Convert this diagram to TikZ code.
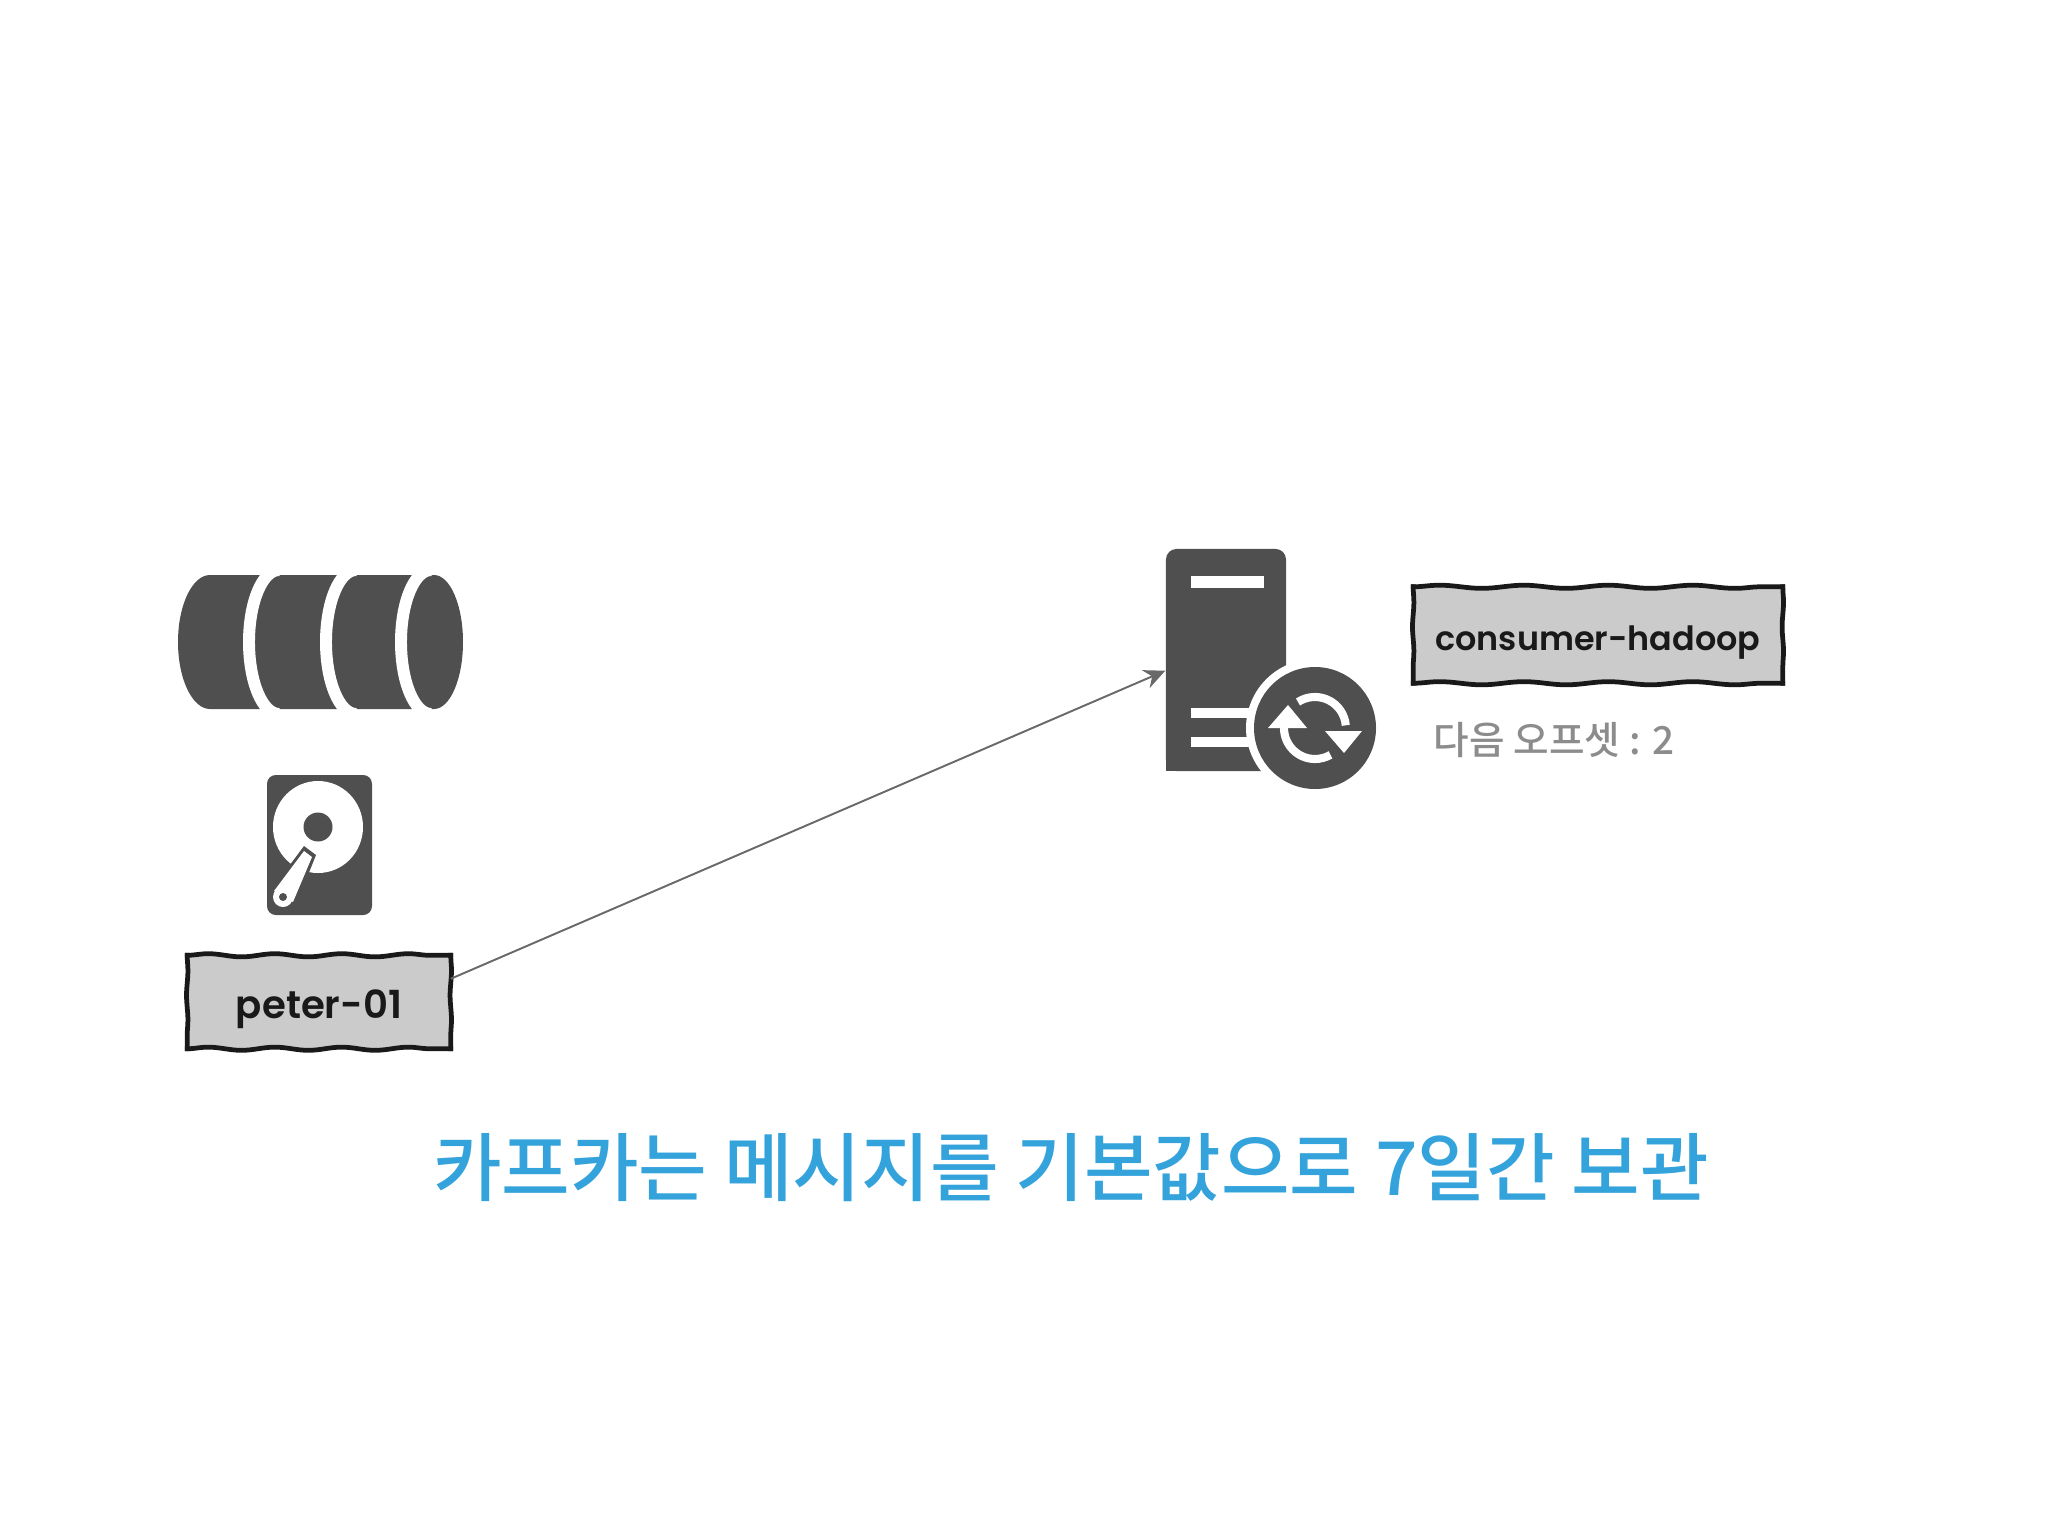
\documentclass[tikz,border=0pt]{standalone}
\usepackage{fontspec}
\usepackage{tikz}
\usetikzlibrary{arrows.meta,decorations.pathmorphing}
\newfontfamily\handfont{Poppins SemiBold}
\newfontfamily\krfont{Noto Sans CJK KR Medium}
\definecolor{icongray}{HTML}{4F4F4F}
\definecolor{boxgray}{HTML}{CBCBCB}
\definecolor{titleblue}{HTML}{35A3DB}
\definecolor{notegray}{HTML}{8C8C8C}
\tikzset{
  labelbox/.style={fill=boxgray,inner sep=0,text=black!90},
  wobble/.style={draw=black!90,line width=1.35pt,line cap=rect,
    decorate,decoration={snake,segment length=#1,amplitude=0.45pt}},
  icon/.style={fill=icongray,draw=none},
  gapline/.style={draw=white,line width=3.4pt},
  syncline/.style={draw=white,line width=2.3pt}
}
\begin{document}
\begin{tikzpicture}[x=0.01cm,y=-0.01cm]
\useasboundingbox (0,0) rectangle (2048,1536);

% log segments
\fill[icongray] (210,575) -- (434,575) arc [start angle=-90,end angle=90,x radius=29,y radius=67]
  -- (210,709) arc [start angle=90,end angle=270,x radius=32,y radius=67] -- cycle;
\foreach \Gap in {279, 356, 431}{
  \draw[gapline] (\Gap,642) ++(0,-72) arc [start angle=-90,end angle=-270,x radius=30,y radius=72];
}

% disk
\fill[icongray,rounded corners=2.5pt] (267,775) rectangle (372,915);
\fill[white] (318,827) ellipse [x radius=45,y radius=46];
\fill[icongray] (318,827) circle [radius=14.5];
\fill[icongray] (304,846) -- (316,855) -- (302,890) -- (275,885) -- cycle;
\fill[white] (304,851) -- (312,857) -- (293,902) -- (274,891) -- cycle;
\fill[white] (283,897) circle [radius=10];
\fill[icongray] (283,897) circle [radius=4];

% server
\node[icon,rounded corners=3pt,minimum width=1.2cm,minimum height=2.22cm,inner sep=0] (server) at (1226,660) {};
\fill[icongray] (1166,700) rectangle (1200,771);
\fill[white] (1191,576) rectangle (1264,588);
\foreach \Slot in {708, 737}{
  \fill[white] (1191,\Slot) rectangle (1270,\Slot+10);
}
\fill[white] (1315,728) circle [radius=69];
\fill[icongray] (1315,728) circle [radius=61];
\draw[syncline] (1315,728) ++(-17,-26) arc [start angle=-123,end angle=-5,radius=31];
\draw[syncline] (1315,728) ++(-31,0) arc [start angle=180,end angle=60,radius=31];
\fill[white] (1268,728) -- (1307,728) -- (1288,705) -- cycle;
\fill[white] (1325,731) -- (1362,731) -- (1344,753) -- cycle;

% labels
\node[labelbox,minimum width=2.62cm,minimum height=0.92cm,text height=12pt,text depth=2.6pt,font=\handfont\fontsize{11}{13}\selectfont] (peter) at (319,1002) {peter-01};
\node[labelbox,minimum width=3.68cm,minimum height=0.95cm,text height=10.6pt,text depth=2pt,font=\handfont\fontsize{9.5}{12}\selectfont] (consumer) at (1598,635) {consumer-hadoop};
\foreach \Box/\Long in {peter/19pt, consumer/24pt}{
  \draw[wobble=\Long] (\Box.north west) -- (\Box.north east);
  \draw[wobble=\Long] (\Box.south west) -- (\Box.south east);
  \draw[wobble=14pt,decoration={amplitude=0.2pt}] (\Box.north west) -- (\Box.south west);
  \draw[wobble=14pt,decoration={amplitude=0.2pt}] (\Box.north east) -- (\Box.south east);
}
\node[anchor=west,inner sep=0,text=notegray,font=\krfont\fontsize{11}{13}\selectfont] (offset) at (1433,740) {다음 오프셋 : 2};
\node[inner sep=0,text=titleblue,font=\krfont\fontsize{21.2}{25}\selectfont] (title) at (1071,1168) {카프카는 메시지를 기본값으로 7일간 보관};

\draw[-{Stealth[length=6pt,width=5.5pt]},draw=icongray!85,fill=icongray,line width=0.55pt] (peter.10) -- (server.190);
\end{tikzpicture}
\end{document}
